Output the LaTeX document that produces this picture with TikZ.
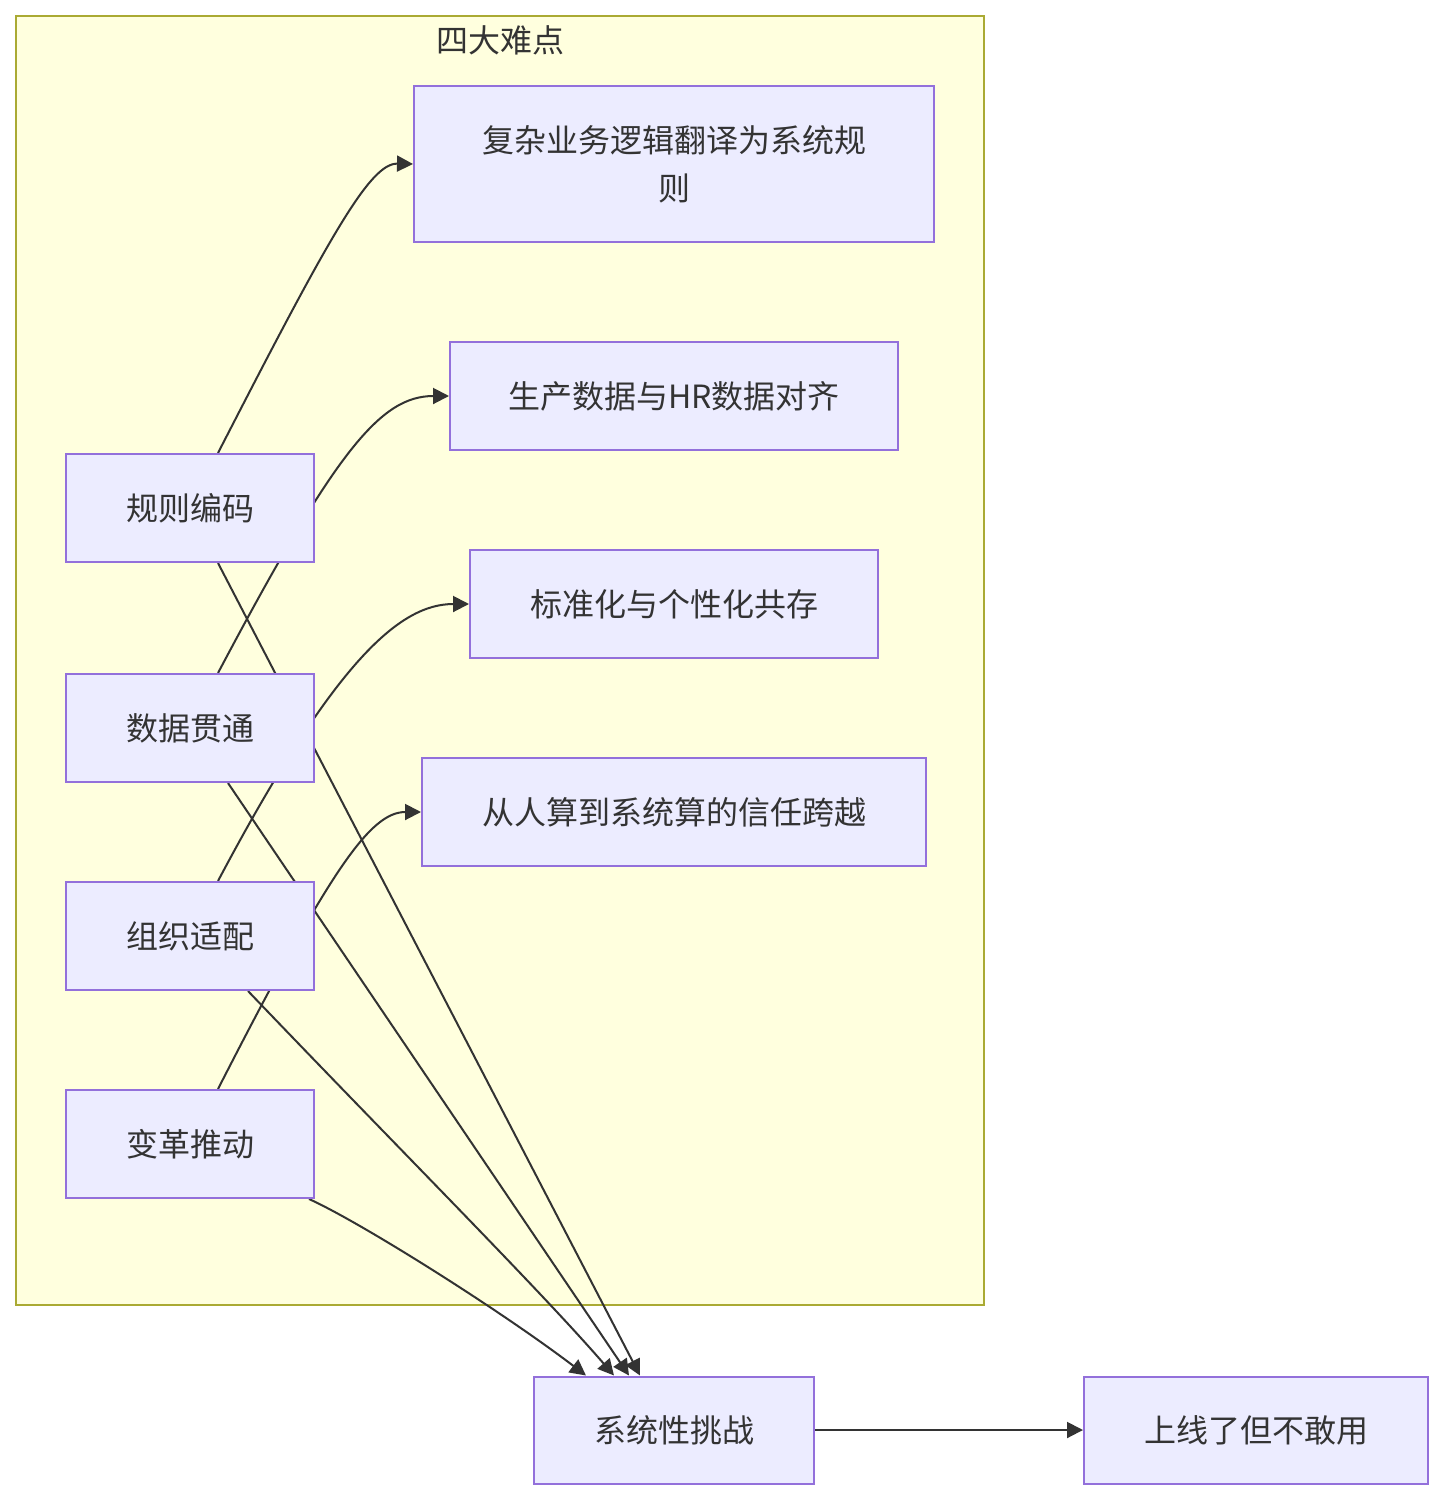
\documentclass[tikz,border=0pt]{standalone}
\usepackage{fontspec}
\setmainfont{Noto Sans CJK SC}
\usetikzlibrary{arrows.meta}
\definecolor{nodefill}{HTML}{ECECFF}
\definecolor{nodeline}{HTML}{9370DB}
\definecolor{clfill}{HTML}{FFFFDE}
\definecolor{clline}{HTML}{AAAA33}
\definecolor{txt}{HTML}{333333}
\pgfdeclarelayer{bg}
\pgfdeclarelayer{edges}
\pgfsetlayers{bg,edges,main}
\tikzset{
  box/.style={draw=nodeline, fill=nodefill, line width=2pt, rectangle, text=txt,
    font=\fontsize{32}{48}\selectfont, align=center, inner sep=0pt},
  conn/.style={draw=txt, line width=2pt, -{Triangle[length=16pt,width=16pt]}},
}
\begin{document}
\begin{tikzpicture}[x=1pt,y=-1pt]
\useasboundingbox (0,0) rectangle (1444,1500);
% nodes
\node[box, minimum width=520pt, minimum height=156pt] (p1) at (674,164) {复杂业务逻辑翻译为系统规\\则};
\node[box, minimum width=448pt, minimum height=108pt] (p2) at (674,396) {生产数据与HR数据对齐};
\node[box, minimum width=408pt, minimum height=108pt] (p3) at (674,604) {标准化与个性化共存};
\node[box, minimum width=504pt, minimum height=108pt] (p4) at (674,812) {从人算到系统算的信任跨越};
\node[box, minimum width=248pt, minimum height=108pt] (a) at (190,508) {规则编码};
\node[box, minimum width=248pt, minimum height=108pt] (b) at (190,728) {数据贯通};
\node[box, minimum width=248pt, minimum height=108pt] (c) at (190,936) {组织适配};
\node[box, minimum width=248pt, minimum height=108pt] (d) at (190,1144) {变革推动};
\node[box, minimum width=280pt, minimum height=107pt] (s) at (674,1430) {系统性挑战};
\node[box, minimum width=344pt, minimum height=107pt] (u) at (1256,1430) {上线了但不敢用};
% cluster
\begin{pgfonlayer}{bg}
\fill[white] (0,0) rectangle (1444,1500);
\draw[clline, fill=clfill, line width=2pt] (16,16) rectangle (984,1305);
\node[text=txt, font=\fontsize{32}{48}\selectfont, anchor=center] (title) at (500,40) {四大难点};
\end{pgfonlayer}
% edges
\begin{pgfonlayer}{edges}
\draw[conn] ([xshift=28pt]a.north) .. controls (330,235) and (370,163) .. (p1.west);
\draw[conn] ([xshift=28pt]b.north) .. controls (335,452) and (380,396) .. (p2.west);
\draw[conn] ([xshift=28pt]c.north) .. controls (335,660) and (400,604) .. (p3.west);
\draw[conn] ([xshift=28pt]d.north) .. controls (330,870) and (370,812) .. (p4.west);
\draw[conn] ([xshift=28pt]a.south) -- ([xshift=-34pt]s.north);
\draw[conn] ([xshift=38pt]b.south) -- ([xshift=-45pt]s.north);
\draw[conn] ([xshift=58pt]c.south) .. controls (400,1150) and (540,1290) .. ([xshift=-60pt]s.north);
\draw[conn] ([xshift=-6pt]d.south east) .. controls (360,1222) and (500,1310) .. ([xshift=-88pt]s.north);
\draw[conn] (s.east) -- (u.west);
\end{pgfonlayer}
\end{tikzpicture}
\end{document}
